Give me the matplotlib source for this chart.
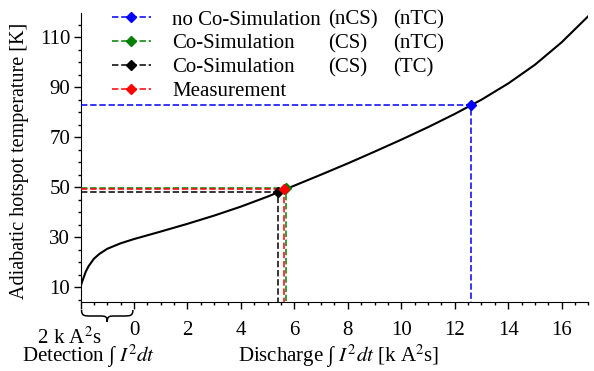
import matplotlib
matplotlib.use('Agg')
import matplotlib.pyplot as plt
from matplotlib.lines import Line2D
from matplotlib.path import Path
from matplotlib.patches import PathPatch
from matplotlib.ticker import MultipleLocator

plt.rcParams['font.family'] = ['Liberation Serif', 'DejaVu Serif']
plt.rcParams['mathtext.fontset'] = 'stix'
plt.rcParams['font.size'] = 15

# adiabatic hotspot temperature vs. discharge
discharge = [-2.0, -1.98, -1.95, -1.9, -1.8, -1.7, -1.5, -1.3, -1.0, -0.5,
             0, 1, 2, 3, 4, 5, 6, 7, 8, 9, 10, 11, 12, 13, 14, 15, 16, 17]
temperature = [9.0, 10.8, 11.8, 13.3, 16.2, 18.3, 21.3, 23.2, 25.3, 27.5,
               29.2, 32.2, 35.3, 38.6, 42.2, 46.2, 50.6, 55.0, 59.5, 64.2,
               69.0, 74.0, 79.3, 85.0, 91.5, 99.0, 108.0, 118.5]

# operating points (legend order)
point_names = ['no Co-Simulation', 'Co-Simulation', 'Co-Simulation', 'Measurement']
point_col2 = ['(nCS)', '(CS)', '(CS)', '']
point_col3 = ['(nTC)', '(nTC)', '(TC)', '']
point_x = [12.6, 5.69, 5.40, 5.62]
point_y = [82.7, 49.6, 48.0, 49.2]
point_colors = ['#0000ff', '#008000', '#000000', '#ff0000']

x_min, x_max = -2, 17
y_min, y_max = 4, 119.6

W, H = 594, 371
fig = plt.figure(figsize=(W / 100, H / 100), dpi=100)
ax = fig.add_axes([80.5 / W, 1 - 302 / H, (588.4 - 80.5) / W, (302 - 13.3) / H])

ax.plot(discharge, temperature, color='black', lw=1.5, zorder=5)

dash = (4.2, 1.8)
handles = []
for name, px, py, c in zip(point_names, point_x, point_y, point_colors):
    ax.plot([x_min, px, px], [py, py, y_min], color=c, lw=1.1,
            dashes=dash, zorder=3)
    ax.plot([px], [py], marker='D', ms=5, color=c, ls='none', zorder=6)
    handles.append(Line2D([], [], color=c, lw=1.1, dashes=dash,
                          marker='D', ms=5))

ax.set_xlim(x_min, x_max)
ax.set_ylim(y_min, y_max)
ax.spines['top'].set_visible(False)
ax.spines['right'].set_visible(False)

ax.set_xticks(range(-2, 17, 2))
ax.set_xticklabels([''] + [str(v) for v in range(0, 17, 2)])
ax.xaxis.set_minor_locator(MultipleLocator(0.5))
ax.set_yticks(range(10, 111, 20))
ax.yaxis.set_minor_locator(MultipleLocator(5))
ax.tick_params(which='major', length=5, width=1)
ax.tick_params(which='minor', length=2.5, width=1)
ax.tick_params(axis='x', pad=9)
ax.tick_params(axis='y', pad=2.5)

leg = ax.legend(handles, point_names, loc='upper left',
                bbox_to_anchor=(112 / W, 1 - 10 / H),
                bbox_transform=fig.transFigure, frameon=False,
                handlelength=1.85, handletextpad=1.05, labelspacing=0.2,
                numpoints=1, borderpad=0, borderaxespad=0)

fig.canvas.draw()
for t, c2, c3 in zip(leg.get_texts(), point_col2, point_col3):
    bb = t.get_window_extent()
    yc = (bb.y0 + bb.y1) / 2 / H
    fig.text(328 / W, yc, c2, va='center', ha='left')
    fig.text(393 / W, yc, c3, va='center', ha='left')

# curly brace below the detection interval
ah = 302 - 13.3
ytop, ymid, ybot = -8 / ah, -14 / ah, -20 / ah
verts = [(-1.96, ytop),
         (-1.96, ymid), (-1.85, ymid), (-1.6, ymid),
         (-1.3, ymid),
         (-1.08, ymid), (-1.0, ymid), (-1.0, ybot),
         (-1.0, ymid), (-0.92, ymid), (-0.7, ymid),
         (-0.4, ymid),
         (-0.15, ymid), (-0.04, ymid), (-0.04, ytop)]
codes = [Path.MOVETO,
         Path.CURVE4, Path.CURVE4, Path.CURVE4,
         Path.LINETO,
         Path.CURVE4, Path.CURVE4, Path.CURVE4,
         Path.CURVE4, Path.CURVE4, Path.CURVE4,
         Path.LINETO,
         Path.CURVE4, Path.CURVE4, Path.CURVE4]
ax.add_patch(PathPatch(Path(verts, codes), fill=False, lw=1.1,
                       transform=ax.get_xaxis_transform(), clip_on=False))

fig.text(22 / W, 1 - 362 / H, '   2 k A$^2$s\nDetection ∫ $I^2dt$',
         ha='left', va='baseline', multialignment='left', linespacing=0.68)
fig.text(338.5 / W, 1 - 362 / H, r'Discharge ∫ $I^2dt$ [k A$^2$s]',
         ha='center', va='baseline')
fig.text(20 / W, 1 - 161 / H, 'Adiabatic hotspot temperature [K]',
         rotation=90, ha='center', va='center', fontsize=14.5)

fig.savefig('out.png', dpi=100)
